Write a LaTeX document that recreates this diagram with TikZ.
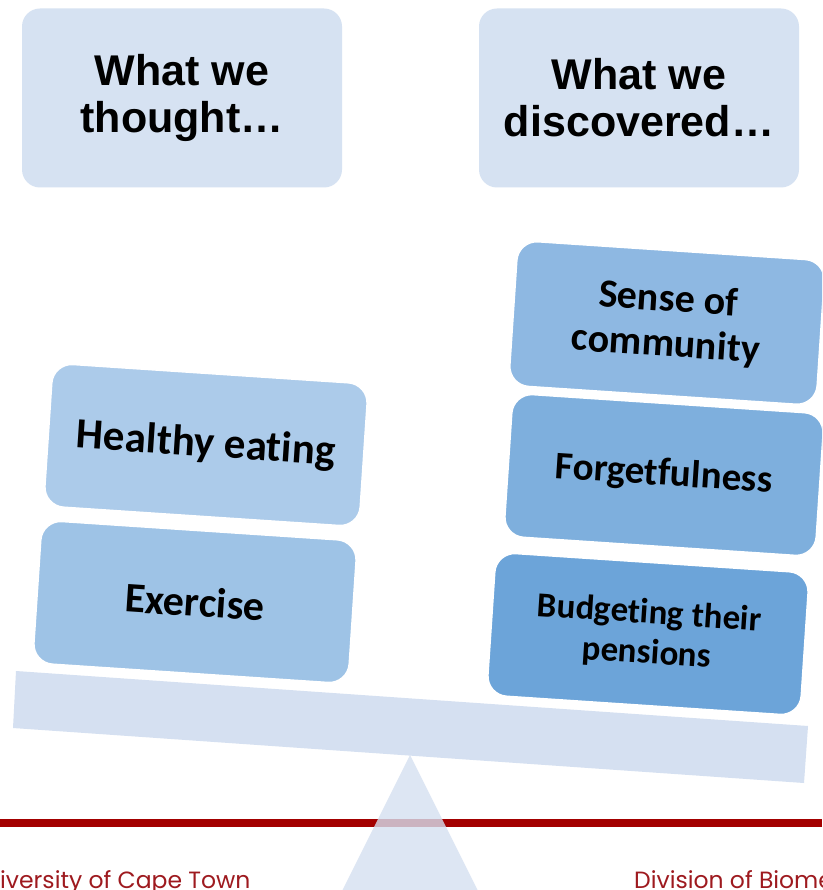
\documentclass[tikz,border=0pt]{standalone}
\usepackage{fontspec}
\setmainfont{Liberation Sans}
\newfontfamily\calib[Ligatures=NoCommon]{Carlito}
\newfontfamily\gothic{Poppins}
\definecolor{hdrc}{HTML}{D6E2F2}
\definecolor{cA}{HTML}{ACCBEA}
\definecolor{cB}{HTML}{9EC3E6}
\definecolor{cC}{HTML}{8EB8E2}
\definecolor{cD}{HTML}{7EAFDD}
\definecolor{cE}{HTML}{6CA4D9}
\definecolor{beamc}{HTML}{D5E0F1}
\definecolor{redline}{HTML}{A30000}
\definecolor{foot}{HTML}{9E1A1F}
\begin{document}
\begin{tikzpicture}[x=1pt,y=-1pt,
  hdr/.style={rounded corners=18pt, fill=hdrc, minimum width=320pt, minimum height=179pt,
    inner sep=0pt, align=center, font=\fontsize{43}{47}\selectfont\bfseries},
  card/.style={rounded corners=20pt, draw=white, line width=1.5pt, inner sep=0pt,
    align=center, rotate=-3.8},
  foottext/.style={text=foot, inner sep=0pt, font=\gothic\fontsize{23.5}{26}\selectfont}
]
\useasboundingbox (0,0) rectangle (822,890);
\clip (0,0) rectangle (822,890);
\fill[white] (0,0) rectangle (822,890);

% header boxes
\node[hdr] (thought) at (182,98) {What we\\thought\ldots};
\node[hdr] (discovered) at (639,98) {What we\\discovered\ldots};

% left cards
\node[card, fill=cA, minimum width=316pt, minimum height=143pt,
  font=\calib\bfseries\fontsize{43}{47}\selectfont] (healthy) at (206,445) {Healthy eating};
\node[card, fill=cB, minimum width=316pt, minimum height=143pt,
  font=\calib\bfseries\fontsize{42}{46}\selectfont] (exercise) at (195,602) {Exercise};

% right cards
\node[card, fill=cC, minimum width=308pt, minimum height=145pt,
  font=\calib\bfseries\fontsize{40}{45}\selectfont] (sense) at (667,323) {Sense of\\community};
\node[card, fill=cD, minimum width=312pt, minimum height=143pt,
  font=\calib\bfseries\fontsize{39}{43}\selectfont] (forget) at (664,475) {Forgetfulness};
\node[card, fill=cE, minimum width=314pt, minimum height=143pt,
  font=\calib\bfseries\fontsize{35}{40}\selectfont] (budget) at (648,634) {Budgeting their\\pensions};

% red rule
\fill[redline] (0,818.5) rectangle (822,826.5);

% beam and fulcrum
\fill[beamc] (16,671) -- (808,726) -- (804,783) -- (13,728) -- cycle;
\fill[beamc, fill opacity=0.8] (410,755) -- (478,891) -- (342,891) -- cycle;

% footer texts
\node[foottext, anchor=base west] (uct) at (0,888.5) {iversity of Cape Town};
\node[foottext, anchor=base west] (div) at (634,888.5) {Division of Biome};
\end{tikzpicture}
\end{document}
